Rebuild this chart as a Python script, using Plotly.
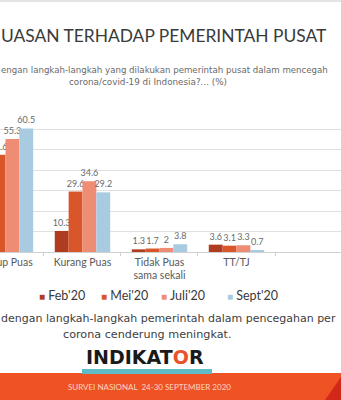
import plotly.graph_objects as go

categories = ["Cukup Puas", "Kurang Puas", "Tidak Puas<br>sama sekali", "TT/TJ"]
series_names = ["Feb'20", "Mei'20", "Juli'20", "Sept'20"]
feb = [None, 10.3, 1.3, 3.6]
mei = [47.6, 29.6, 1.7, 3.1]
juli = [55.3, 34.6, 2.0, 3.3]
sept = [60.5, 29.2, 3.8, 0.7]
values = [feb, mei, juli, sept]
colors = ["#B03C20", "#D9562A", "#EF8C74", "#A9CBE2"]

W, H = 341, 400
TOP, BOT = 109, 252


def px(x):
    return x / W


def py(y):
    return (BOT - y) / (BOT - TOP)


fig = go.Figure()
for name, vals, col in zip(series_names, values, colors):
    fig.add_trace(go.Bar(
        x=categories, y=vals, name=name, marker_color=col, marker_line_width=0,
        text=[("" if v is None else f"{v:g}") for v in vals],
        textposition="outside", constraintext="none", cliponaxis=True,
        textfont=dict(size=9, color="#6A6A6A", family="Lato"),
        showlegend=False,
    ))

fig.update_layout(
    width=W, height=H,
    margin=dict(l=0, r=0, t=TOP, b=H - BOT, pad=0, autoexpand=False),
    paper_bgcolor="white", plot_bgcolor="white",
    barmode="group", bargap=0.28, bargroupgap=0,
    font=dict(family="Lato", color="#404040"),
    showlegend=False,
    xaxis=dict(type="category", range=[-0.071, 4.357], showgrid=False, automargin=False,
               showline=True, linecolor="#D0D0D0", linewidth=1,
               ticks="outside", tickson="boundaries", ticklen=3, tickcolor="#D0D0D0",
               tickfont=dict(size=10.5, color="#595959", family="Lato"),
               fixedrange=True),
    yaxis=dict(range=[0, 70], dtick=10, showgrid=True, gridcolor="#E0E0E0", gridwidth=1,
               automargin=False,
               showticklabels=False, zeroline=False, showline=False, fixedrange=True),
)

shapes = [
    dict(type="line", xref="paper", yref="paper", x0=0, x1=1, y0=py(1), y1=py(1),
         line=dict(color="#E4E4E4", width=2)),
    dict(type="rect", xref="paper", yref="paper", x0=0, x1=1, y0=py(400), y1=py(373),
         fillcolor="#EF5324", line_width=0, layer="above"),
    dict(type="path", xref="paper", yref="paper",
         path=f"M {px(325)},{py(400)} L {px(341)},{py(377)} L {px(341)},{py(400)} Z",
         fillcolor="#D2281A", line_width=0, layer="above"),
    dict(type="rect", xref="paper", yref="paper", x0=px(82), x1=px(212), y0=py(374), y1=py(369),
         fillcolor="#5DBCC8", line_width=0, layer="above"),
]
fig.update_layout(shapes=shapes)

legend_x = [37, 99, 159, 225]
ann = [
    dict(text="UASAN TERHADAP PEMERINTAH PUSAT", x=px(-1), y=py(35), xanchor="left", yanchor="middle",
         font=dict(size=17.4, color="#3A3A3A", family="Lato")),
    dict(text="engan langkah-langkah yang dilakukan pemerintah pusat dalam mencegah",
         x=px(-1), y=py(70), xanchor="left", yanchor="middle",
         font=dict(size=8.65, color="#6A6A6A", family="DejaVu Sans")),
    dict(text="corona/covid-19 di Indonesia?... (%)", x=px(148), y=py(82), xanchor="center", yanchor="middle",
         font=dict(size=8.8, color="#6A6A6A", family="DejaVu Sans")),
    dict(text="dengan langkah-langkah pemerintah dalam pencegahan per",
         x=px(-1), y=py(318), xanchor="left", yanchor="middle",
         font=dict(size=11.0, color="#404040", family="DejaVu Sans")),
    dict(text="corona cenderung meningkat.", x=px(147), y=py(334), xanchor="center", yanchor="middle",
         font=dict(size=11.2, color="#404040", family="DejaVu Sans")),
    dict(text="<b>INDIKAT<span style='color:#E8532B'>O</span>R</b>", x=px(145), y=py(357),
         xanchor="center", yanchor="middle",
         font=dict(size=19, color="#1A1A1A", family="DejaVu Sans")),
    dict(text="SURVEI NASIONAL  24-30 SEPTEMBER 2020", x=px(149), y=py(387), xanchor="center", yanchor="middle",
         font=dict(size=8, color="#FBD3C4", family="Lato")),
]
for name, col, lx in zip(series_names, colors, legend_x):
    ann.append(dict(text=f"<span style='color:{col};font-size:10px'>■</span> {name}", x=px(lx), y=py(295),
                    xanchor="left", yanchor="middle",
                    font=dict(size=12.5, color="#3A3A3A", family="Lato")))
for a in ann:
    a.update(xref="paper", yref="paper", showarrow=False)
fig.update_layout(annotations=ann)

fig.write_html("out.html")
